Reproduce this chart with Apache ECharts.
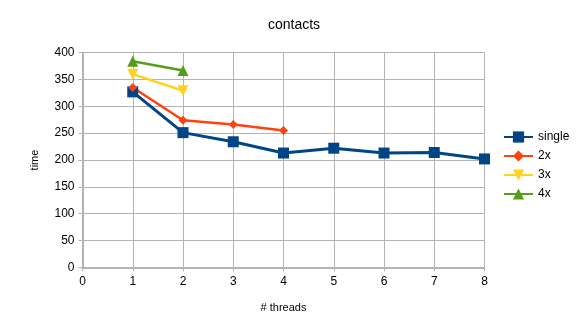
<!DOCTYPE html>
<html><head><meta charset="utf-8">
<script src="https://cdn.jsdelivr.net/npm/echarts@6/dist/echarts.min.js"></script>
<style>html,body{margin:0;padding:0;background:#fff}#c{width:588px;height:326px}</style>
</head><body><div id="c"></div>
<script>
const threads = [1,2,3,4,5,6,7,8];
const single = [327,251,234,213,222,213,214,202];
const x2 = [335,274,266,255];
const x3 = [360,329];
const x4 = [384,367];
const yTicks = [0,50,100,150,200,250,300,350,400];
const xTicks = [0,1,2,3,4,5,6,7,8];

const pairs = (arr) => arr.map((v,i)=>[threads[i], v]);
const font = 'Liberation Sans, Arial, sans-serif';
const chart = echarts.init(document.getElementById('c'), null, {renderer:'canvas'});
const mk = (name, data, color, symbol, size, width) => ({
  name, type:'line', data: pairs(data), symbol, symbolSize:size,
  lineStyle:{color, width}, itemStyle:{color}, animation:false
});
chart.setOption({
  animation:false,
  title:{text:'contacts', left:'center', top:13, textStyle:{fontFamily:font, fontSize:14, fontWeight:'normal', color:'#000'}},
  grid:{left:82.5, right:103.5, top:52.7, bottom:58.7},
  legend:{orient:'vertical', left:503, top:130, padding:0, itemGap:5, itemWidth:29, itemHeight:14,
    textStyle:{fontFamily:font, fontSize:12, color:'#000', lineHeight:14},
    data:['single','2x','3x','4x']},
  xAxis:{type:'value', min:xTicks[0], max:xTicks[xTicks.length-1], interval:1,
    name:'# threads', nameLocation:'middle', nameGap:35,
    nameTextStyle:{fontFamily:font, fontSize:11, color:'#000'},
    axisLine:{lineStyle:{color:'#b3b3b3', width:2}},
    axisTick:{show:true, length:4, lineStyle:{color:'#b3b3b3'}},
    axisLabel:{fontFamily:font, fontSize:12, color:'#000', margin:8},
    splitLine:{show:true, lineStyle:{color:'#b3b3b3', width:1}}},
  yAxis:{type:'value', min:yTicks[0], max:yTicks[yTicks.length-1], interval:50,
    name:'time', nameLocation:'middle', nameGap:42, nameRotate:90,
    nameTextStyle:{fontFamily:font, fontSize:11, color:'#000'},
    axisLine:{show:true, lineStyle:{color:'#b3b3b3', width:2}},
    axisTick:{show:true, length:4, lineStyle:{color:'#b3b3b3'}},
    axisLabel:{fontFamily:font, fontSize:12, color:'#000', margin:8},
    splitLine:{show:true, lineStyle:{color:'#b3b3b3', width:1}}},
  series:[
    mk('single', single, '#004586', 'rect', 11, 3),
    mk('2x', x2, '#ff420e', 'diamond', 9, 2.5),
    mk('3x', x3, '#ffd320', 'path://M0,0 L10,0 L5,9 Z', 11, 2.5),
    mk('4x', x4, '#579d1c', 'triangle', 11, 2.5)
  ]
});
</script></body></html>
